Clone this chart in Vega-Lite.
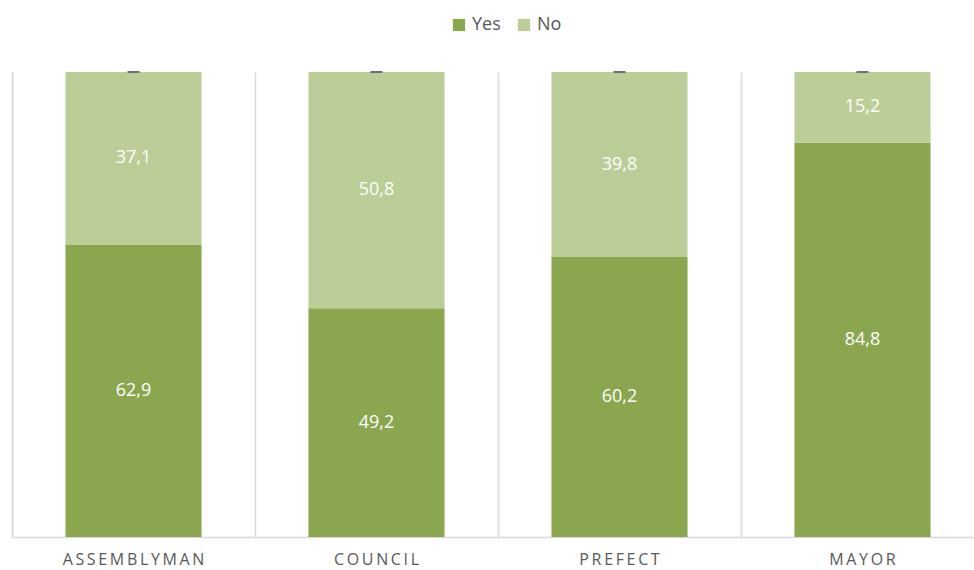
{
  "$schema": "https://vega.github.io/schema/vega-lite/v6.json",
  "autosize": "none",
  "width": 972,
  "height": 465,
  "padding": {"left": 12, "top": 72, "right": 0, "bottom": 33},
  "background": "white",
  "config": {"view": {"stroke": null}, "font": "Open Sans"},
  "data": {"values": [
    {"office": "ASSEMBLYMAN", "answer": "Yes", "value": 62.9, "label": "62,9", "ord": 1},
    {"office": "ASSEMBLYMAN", "answer": "No", "value": 37.1, "label": "37,1", "ord": 2},
    {"office": "COUNCIL", "answer": "Yes", "value": 49.2, "label": "49,2", "ord": 1},
    {"office": "COUNCIL", "answer": "No", "value": 50.8, "label": "50,8", "ord": 2},
    {"office": "PREFECT", "answer": "Yes", "value": 60.2, "label": "60,2", "ord": 1},
    {"office": "PREFECT", "answer": "No", "value": 39.8, "label": "39,8", "ord": 2},
    {"office": "MAYOR", "answer": "Yes", "value": 84.8, "label": "84,8", "ord": 1},
    {"office": "MAYOR", "answer": "No", "value": 15.2, "label": "15,2", "ord": 2}
  ]},
  "encoding": {
    "x": {
      "field": "office", "type": "nominal", "sort": null,
      "scale": {"paddingInner": 0, "paddingOuter": 0},
      "axis": {
        "title": null, "labelAngle": 0, "ticks": false,
        "grid": true, "bandPosition": 0, "gridColor": "#d9d9d9", "gridWidth": 1.5,
        "domainColor": "#d9d9d9", "domainWidth": 1.5,
        "labelPadding": 14, "labelFontSize": 16, "labelColor": "#595959",
        "labelExpr": "join(split(datum.label, ''), '\u2009')"
      }
    }
  },
  "layer": [
    {
      "mark": {"type": "bar", "width": {"band": 0.56}},
      "encoding": {
        "y": {"field": "value", "type": "quantitative", "stack": "zero",
              "scale": {"domain": [0, 100]},
              "axis": {"title": null, "labels": false, "ticks": false, "grid": false, "domainColor": "#d9d9d9", "domainWidth": 1.5}},
        "order": {"field": "ord", "type": "quantitative"},
        "color": {
          "field": "answer", "type": "nominal",
          "scale": {"domain": ["Yes", "No"], "range": ["#8aa64e", "#bbce97"]},
          "legend": {
            "title": null, "orient": "none", "direction": "horizontal",
            "legendX": 438, "legendY": -56,
            "symbolType": "square", "symbolSize": 150, "symbolStrokeWidth": 0,
            "symbolOpacity": 1,
            "labelFontSize": 18, "labelColor": "#595959", "columnPadding": 14, "labelOffset": 4
          }
        }
      }
    },
    {
      "mark": {"type": "text", "color": "white", "fontSize": 18},
      "encoding": {
        "y": {"field": "value", "type": "quantitative", "stack": "zero", "bandPosition": 0.5},
        "order": {"field": "ord", "type": "quantitative"},
        "text": {"field": "label"}
      }
    },
    {
      "mark": {"type": "tick", "color": "#6e6e7a", "size": 12, "thickness": 2},
      "encoding": {
        "y": {"aggregate": "sum", "field": "value", "type": "quantitative"}
      }
    }
  ]
}
